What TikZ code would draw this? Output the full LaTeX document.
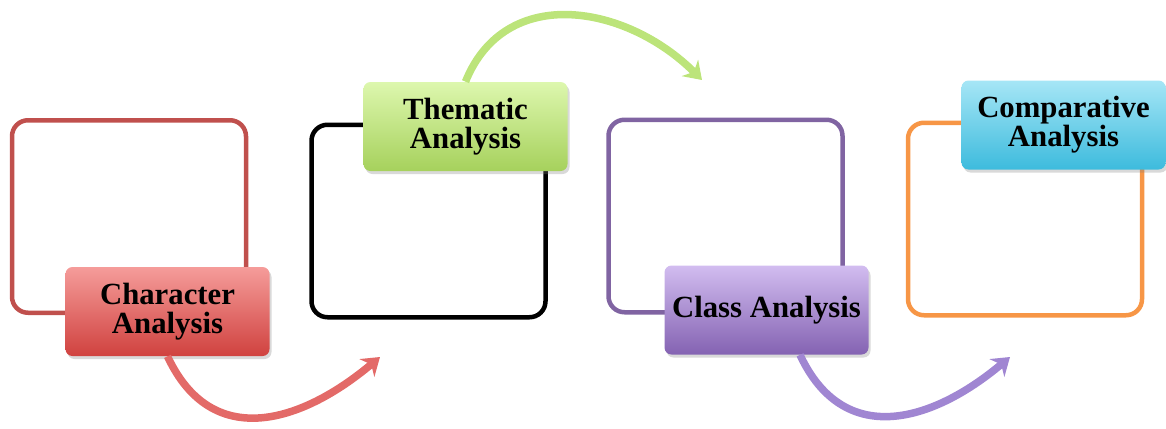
\documentclass[tikz,border=0pt]{standalone}
\usepackage{fontspec}
\setmainfont{Liberation Serif}
\usetikzlibrary{arrows.meta,shadows}

\definecolor{redline}{HTML}{C0504D}
\definecolor{purpleline}{HTML}{8064A2}
\definecolor{orangeline}{HTML}{F79646}
\definecolor{redtop}{HTML}{F59C9A}
\definecolor{redbot}{HTML}{D0423F}
\definecolor{greentop}{HTML}{DDF7AE}
\definecolor{greenbot}{HTML}{A6D15C}
\definecolor{purpletop}{HTML}{D2BDF0}
\definecolor{purplebot}{HTML}{8462B2}
\definecolor{cyantop}{HTML}{A6E6F6}
\definecolor{cyanbot}{HTML}{3DBBDD}
\definecolor{redarc}{HTML}{E36A68}
\definecolor{greenarc}{HTML}{BCE47A}
\definecolor{purplearc}{HTML}{A086D2}

\begin{document}
\begin{tikzpicture}[
    frame/.style={
        draw,
        line width=0.09cm,
        rounded corners=0.32cm,
        minimum width=4.68cm,
        minimum height=3.85cm
    },
    tag/.style={
        rectangle,
        rounded corners=0.14cm,
        minimum width=4.08cm,
        minimum height=1.78cm,
        align=center,
        text=black,
        font=\fontsize{17.5}{16.5}\selectfont\bfseries,
        drop shadow={opacity=0.3, shadow xshift=0.04cm, shadow yshift=-0.06cm}
    },
    sweep/.style={
        line width=0.15cm,
        -{Stealth[length=0.34cm, width=0.46cm]}
    }
]
    \useasboundingbox (0,0) rectangle (23.32,8.56);

    % outline boxes
    \node[frame, draw=redline] (boxa) at (2.58,4.23) {};
    \node[frame, draw=black] (boxb) at (8.57,4.14) {};
    \node[frame, draw=purpleline] (boxc) at (14.51,4.24) {};
    \node[frame, draw=orangeline] (boxd) at (20.50,4.18) {};

    % title tags
    \node[tag, top color=redtop, bottom color=redbot] (taga) at (3.35,2.33) {Character\\Analysis};
    \node[tag, top color=greentop, bottom color=greenbot] (tagb) at (9.31,6.03) {Thematic\\Analysis};
    \node[tag, top color=purpletop, bottom color=purplebot] (tagc) at (15.33,2.36) {Class Analysis};
    \node[tag, top color=cyantop, bottom color=cyanbot] (tagd) at (21.27,6.06) {Comparative\\Analysis};

    \coordinate (enda) at (7.60,1.42);
    \coordinate (endb) at (14.04,6.96);
    \coordinate (endc) at (20.20,1.42);

    \draw[sweep, redarc]
        (taga.south) to[out=-65, in=-140, looseness=1.25] (enda);
    \draw[sweep, greenarc]
        (tagb.north) to[out=68, in=135, looseness=1.15] (endb);
    \draw[sweep, purplearc]
        ([xshift=0.67cm]tagc.south) to[out=-65, in=-140, looseness=1.25] (endc);
\end{tikzpicture}
\end{document}
